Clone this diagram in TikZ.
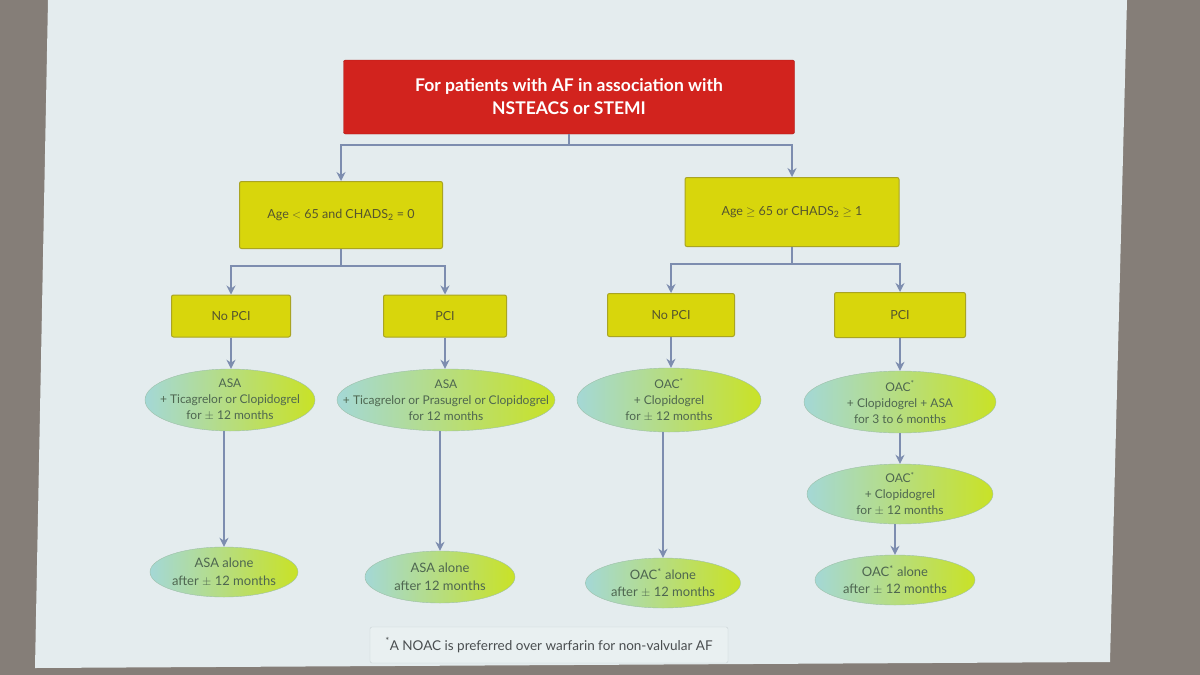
\documentclass[tikz,border=0pt]{standalone}
\usepackage{fontspec}
\setmainfont{Lato}
\usetikzlibrary{shapes.geometric,arrows.meta}
\definecolor{wallc}{HTML}{857E78}
\definecolor{slidec}{HTML}{E4ECEE}
\definecolor{redf}{HTML}{D2231E}
\definecolor{redd}{HTML}{A81814}
\definecolor{yf}{HTML}{D8D60C}
\definecolor{yd}{HTML}{A9A423}
\definecolor{ytext}{HTML}{55552E}
\definecolor{el}{HTML}{A4D8D6}
\definecolor{er}{HTML}{C9E226}
\definecolor{ed}{HTML}{9DBFA8}
\definecolor{etext}{HTML}{4E6650}
\definecolor{ac}{HTML}{7D8DAF}
\definecolor{fnf}{HTML}{E9F0F1}
\definecolor{fnd}{HTML}{C9D2D4}
\definecolor{fntext}{HTML}{4A4E50}
\begin{document}
\begin{tikzpicture}[x=1pt,y=-1pt,
  redbox/.style={draw=redd, fill=redf, rounded corners=2pt, text=white,
    font=\fontsize{17.5}{23}\selectfont\bfseries, align=center},
  ybox/.style={draw=yd, fill=yf, rounded corners=2pt, line width=1pt,
    text=ytext, font=\fontsize{12.5}{15}\selectfont},
  ell/.style={ellipse, draw=ed, left color=el, right color=er, inner sep=0pt,
    inner xsep=-30pt, inner ysep=-8pt,
    text=etext, font=\fontsize{12}{16}\selectfont, align=center},
  ellb/.style={ell, font=\fontsize{13}{17.5}\selectfont},
  arr/.style={draw=ac, line width=1.8pt, -{Stealth[length=9pt,width=9pt]}},
  fn/.style={draw=fnd, fill=fnf, rounded corners=2pt, text=fntext,
    font=\fontsize{13.5}{15}\selectfont}
]
\useasboundingbox (0,0) rectangle (1200,675);
\fill[wallc] (0,0) rectangle (1200,675);
\fill[slidec] (48,0) -- (1127,0) -- (1110,662) -- (35,668) -- cycle;

% top
\node[redbox, minimum width=451, minimum height=74] (top) at (569,97)
  {For patients with AF in association with\\NSTEACS or STEMI};

% level 2
\node[ybox, minimum width=203, minimum height=67] (ya) at (341,215)
  {Age $<$ 65 and CHADS\textsubscript{2} = 0};
\node[ybox, minimum width=214, minimum height=69] (yb) at (792,212)
  {Age $\geq$ 65 or CHADS\textsubscript{2} $\geq$ 1};

% level 3
\node[ybox, minimum width=119, minimum height=42] (a1) at (231,316) {No PCI};
\node[ybox, minimum width=123, minimum height=42] (a2) at (445,316) {PCI};
\node[ybox, minimum width=127, minimum height=43] (b1) at (671,315) {No PCI};
\node[ybox, minimum width=131, minimum height=45] (b2) at (900,315) {PCI};

% ellipses row 1
\node[ell, minimum width=170, minimum height=62] (e1) at (230,400)
  {ASA\\+ Ticagrelor or Clopidogrel\\for $\pm$ 12 months};
\node[ell, minimum width=218, minimum height=62] (e2) at (446,400)
  {ASA\\+ Ticagrelor or Prasugrel or Clopidogrel\\for 12 months};
\node[ell, minimum width=184, minimum height=64] (e3) at (669,400)
  {OAC\textsuperscript{*}\\+ Clopidogrel\\for $\pm$ 12 months};
\node[ell, minimum width=192, minimum height=62] (e4) at (900,402)
  {OAC\textsuperscript{*}\\+ Clopidogrel + ASA\\for 3 to 6 months};

% second step on right
\node[ell, minimum width=186, minimum height=60] (e5) at (900,494)
  {OAC\textsuperscript{*}\\+ Clopidogrel\\for $\pm$ 12 months};

% final row
\node[ellb, minimum width=148, minimum height=50] (f1) at (224,572)
  {ASA alone\\after $\pm$ 12 months};
\node[ellb, minimum width=150, minimum height=52] (f2) at (440,577)
  {ASA alone\\after 12 months};
\node[ellb, minimum width=155, minimum height=50] (f3) at (663,583)
  {OAC\textsuperscript{*} alone\\after $\pm$ 12 months};
\node[ellb, minimum width=160, minimum height=50] (f4) at (895,580)
  {OAC\textsuperscript{*} alone\\after $\pm$ 12 months};

% footnote
\node[fn, minimum width=358, minimum height=36] (note) at (549,645)
  {\textsuperscript{*}A NOAC is preferred over warfarin for non-valvular AF};

% connectors
\draw[arr] (top.south) -- ++(0,11) -| (ya.north);
\draw[arr] (top.south) -- ++(0,11) -| (yb.north);
\draw[arr] (ya.south) -- ++(0,17) -| (a1.north);
\draw[arr] (ya.south) -- ++(0,17) -| (a2.north);
\draw[arr] (yb.south) -- ++(0,17) -| (b1.north);
\draw[arr] (yb.south) -- ++(0,17) -| (b2.north);
\draw[arr] (a1.south) -- (a1.south |- e1.north);
\draw[arr] (a2.south) -- (a2.south |- e2.north);
\draw[arr] (b1.south) -- (b1.south |- e3.north);
\draw[arr] (b2.south) -- (b2.south |- e4.north);
\draw[arr] (f1.north |- e1.south) -- (f1.north);
\draw[arr] (f2.north |- e2.south) -- (f2.north);
\draw[arr] (f3.north |- e3.south) -- (f3.north);
\draw[arr] (e4.south) -- (e5.north);
\draw[arr] (f4.north |- e5.south) -- (f4.north);
\end{tikzpicture}
\end{document}
